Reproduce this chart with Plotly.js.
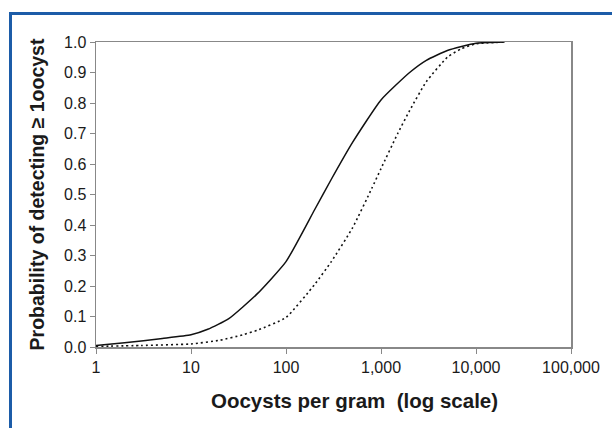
<!DOCTYPE html>
<html>
<head>
<meta charset="utf-8">
<script src="https://cdn.plot.ly/plotly-3.0.1.min.js"></script>
<style>
  html, body { margin:0; padding:0; background:#fff; }
  #wrap { position:relative; width:612px; height:428px; overflow:hidden; }
  #chart { position:absolute; left:0; top:0; width:612px; height:428px; }
  #frame { position:absolute; left:9px; top:12px; width:700px; height:500px;
           border-left:3px solid #1c5ca8; border-top:3px solid #1c5ca8; pointer-events:none; }
</style>
</head>
<body>
<div id="wrap">
  <div id="chart"></div>
  <div id="frame"></div>
</div>
<script>
// Oocysts per gram (x) and probability of detecting >= 1 oocyst
const solidX = [1, 2, 5, 10, 15, 25, 50, 100, 200, 300, 500, 1000, 2000, 3000, 5000, 10000, 20000];
const solidY = [0.005, 0.014, 0.028, 0.04, 0.058, 0.093, 0.175, 0.28, 0.45, 0.55, 0.67, 0.81, 0.90, 0.94, 0.972, 0.996, 1.0];

const dottedX = [1, 3, 10, 20, 35, 50, 100, 200, 300, 500, 800, 1000, 1500, 2000, 3000, 5000, 7000, 10000, 20000];
const dottedY = [0.002, 0.005, 0.01, 0.022, 0.04, 0.055, 0.097, 0.205, 0.28, 0.39, 0.52, 0.585, 0.70, 0.775, 0.87, 0.95, 0.978, 0.994, 1.0];

const xTickVals = [1, 10, 100, 1000, 10000, 100000];
const xTickText = ["1", "10", "100", "1,000", "10,000", "100,000"];
const yTickVals = [0, 0.1, 0.2, 0.3, 0.4, 0.5, 0.6, 0.7, 0.8, 0.9, 1.0];

const xTitle = 'Oocysts per gram&nbsp; (log scale)';
const yTitle = 'Probability of detecting ≥ 1oocyst';

const traces = [
  { x: solidX, y: solidY, type: 'scatter', mode: 'lines',
    line: { color: '#111', width: 1.5, shape: 'spline', smoothing: 0.5 }, hoverinfo: 'skip' },
  { x: dottedX, y: dottedY, type: 'scatter', mode: 'lines',
    line: { color: '#111', width: 1.6, dash: '2px,3px', shape: 'spline', smoothing: 0.5 }, hoverinfo: 'skip' }
];

const layout = {
  width: 612, height: 428,
  margin: { l: 96, r: 41, t: 42, b: 81, pad: 0 },
  paper_bgcolor: '#fff', plot_bgcolor: '#fff',
  showlegend: false,
  font: { family: 'Liberation Sans, Arial, sans-serif', color: '#1a1a1a' },
  xaxis: {
    type: 'log', range: [0, 5],
    tickvals: xTickVals, ticktext: xTickText,
    ticks: 'outside', ticklen: 5, tickwidth: 1, tickcolor: '#888',
    showline: true, linecolor: '#888', linewidth: 1.5, mirror: true,
    showgrid: false, zeroline: false,
    tickfont: { size: 16, color: '#1a1a1a' }
  },
  yaxis: {
    range: [0, 1.0],
    tickvals: yTickVals, tickformat: '.1f',
    ticks: 'outside', ticklen: 5, tickwidth: 1, tickcolor: '#888',
    showline: true, linecolor: '#888', linewidth: 1.5, mirror: true,
    showgrid: false, zeroline: false,
    tickfont: { size: 16, color: '#1a1a1a' },
    title: { text: '<b>' + yTitle + '</b>', font: { size: 19.5, color: '#1a1a1a' }, standoff: 14 }
  },
  annotations: [{
    xref: 'paper', yref: 'paper', x: 0.545, y: -0.174,
    xanchor: 'center', yanchor: 'middle', showarrow: false,
    text: '<b>' + xTitle + '</b>', font: { size: 20.5, color: '#1a1a1a' }
  }]
};

Plotly.newPlot('chart', traces, layout, { staticPlot: true, displayModeBar: false });
</script>
</body>
</html>
